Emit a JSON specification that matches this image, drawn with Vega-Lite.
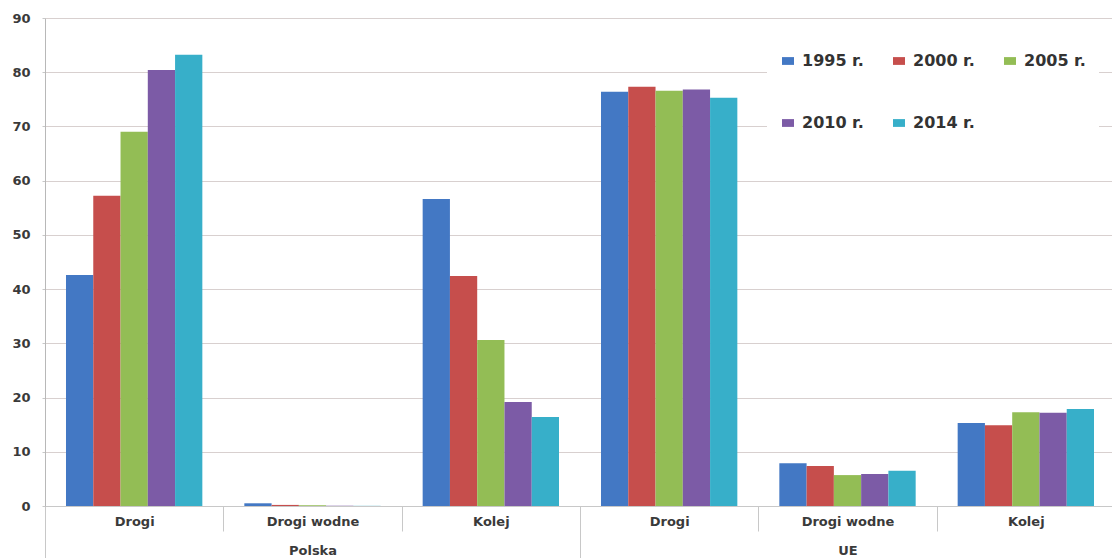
{
  "$schema": "https://vega.github.io/schema/vega-lite/v6.json",
  "autosize": {"type": "none"},
  "width": 1070,
  "height": 488,
  "padding": {"left": 45, "top": 18, "right": 0, "bottom": 52},
  "background": "white",
  "config": {
    "view": {"stroke": null},
    "font": "DejaVu Sans",
    "axis": {"labelFont": "DejaVu Sans", "labelColor": "#3a3a3a", "labelFontWeight": "bold"}
  },
  "data": {
    "values": [
      {"region": "Polska", "kategoria": "Polska|Drogi", "rok": "1995 r.", "udzial": 42.6},
      {"region": "Polska", "kategoria": "Polska|Drogi", "rok": "2000 r.", "udzial": 57.2},
      {"region": "Polska", "kategoria": "Polska|Drogi", "rok": "2005 r.", "udzial": 69.0},
      {"region": "Polska", "kategoria": "Polska|Drogi", "rok": "2010 r.", "udzial": 80.4},
      {"region": "Polska", "kategoria": "Polska|Drogi", "rok": "2014 r.", "udzial": 83.2},
      {"region": "Polska", "kategoria": "Polska|Drogi wodne", "rok": "1995 r.", "udzial": 0.5},
      {"region": "Polska", "kategoria": "Polska|Drogi wodne", "rok": "2000 r.", "udzial": 0.2},
      {"region": "Polska", "kategoria": "Polska|Drogi wodne", "rok": "2005 r.", "udzial": 0.15},
      {"region": "Polska", "kategoria": "Polska|Drogi wodne", "rok": "2010 r.", "udzial": 0.05},
      {"region": "Polska", "kategoria": "Polska|Drogi wodne", "rok": "2014 r.", "udzial": 0.03},
      {"region": "Polska", "kategoria": "Polska|Kolej", "rok": "1995 r.", "udzial": 56.6},
      {"region": "Polska", "kategoria": "Polska|Kolej", "rok": "2000 r.", "udzial": 42.4},
      {"region": "Polska", "kategoria": "Polska|Kolej", "rok": "2005 r.", "udzial": 30.6},
      {"region": "Polska", "kategoria": "Polska|Kolej", "rok": "2010 r.", "udzial": 19.2},
      {"region": "Polska", "kategoria": "Polska|Kolej", "rok": "2014 r.", "udzial": 16.4},
      {"region": "UE", "kategoria": "UE|Drogi", "rok": "1995 r.", "udzial": 76.4},
      {"region": "UE", "kategoria": "UE|Drogi", "rok": "2000 r.", "udzial": 77.3},
      {"region": "UE", "kategoria": "UE|Drogi", "rok": "2005 r.", "udzial": 76.6},
      {"region": "UE", "kategoria": "UE|Drogi", "rok": "2010 r.", "udzial": 76.8},
      {"region": "UE", "kategoria": "UE|Drogi", "rok": "2014 r.", "udzial": 75.3},
      {"region": "UE", "kategoria": "UE|Drogi wodne", "rok": "1995 r.", "udzial": 7.9},
      {"region": "UE", "kategoria": "UE|Drogi wodne", "rok": "2000 r.", "udzial": 7.4},
      {"region": "UE", "kategoria": "UE|Drogi wodne", "rok": "2005 r.", "udzial": 5.7},
      {"region": "UE", "kategoria": "UE|Drogi wodne", "rok": "2010 r.", "udzial": 5.9},
      {"region": "UE", "kategoria": "UE|Drogi wodne", "rok": "2014 r.", "udzial": 6.5},
      {"region": "UE", "kategoria": "UE|Kolej", "rok": "1995 r.", "udzial": 15.3},
      {"region": "UE", "kategoria": "UE|Kolej", "rok": "2000 r.", "udzial": 14.9},
      {"region": "UE", "kategoria": "UE|Kolej", "rok": "2005 r.", "udzial": 17.3},
      {"region": "UE", "kategoria": "UE|Kolej", "rok": "2010 r.", "udzial": 17.2},
      {"region": "UE", "kategoria": "UE|Kolej", "rok": "2014 r.", "udzial": 17.9}
    ]
  },
  "layer": [
    {
      "mark": {"type": "bar"},
      "encoding": {
        "x": {
          "field": "kategoria", "type": "nominal", "sort": null,
          "scale": {"paddingInner": 0, "paddingOuter": 0},
          "axis": {
            "title": null, "orient": "bottom", "labelAngle": 0,
            "labelExpr": "split(datum.label, '|')[1]",
            "tickBand": "extent", "tickSize": 25, "tickColor": "#c8c8c8",
            "labelPadding": -16, "labelFontSize": 13,
            "domainColor": "#c8c8c8", "grid": false
          }
        },
        "xOffset": {
          "field": "rok", "type": "nominal",
          "scale": {"paddingInner": 0, "paddingOuter": 0.77}
        },
        "y": {
          "field": "udzial", "type": "quantitative",
          "scale": {"domain": [0, 90], "nice": false},
          "axis": {
            "title": null, "values": [0, 10, 20, 30, 40, 50, 60, 70, 80, 90],
            "grid": true, "gridColor": "#d8d0cf", "tickSize": 3,
            "tickColor": "#c8c8c8", "domainColor": "#b8b8b8",
            "labelPadding": 12, "labelFontSize": 13
          }
        },
        "color": {
          "field": "rok", "type": "nominal",
          "scale": {
            "domain": ["1995 r.", "2000 r.", "2005 r.", "2010 r.", "2014 r."],
            "range": ["#4378c4", "#c64e4c", "#93bd55", "#7c5ba6", "#37afc9"]
          },
          "legend": {
            "title": null, "orient": "none", "legendX": 722, "legendY": 22,
            "direction": "horizontal", "columns": 3,
            "fillColor": "white", "padding": 13,
            "symbolType": "M-1,-0.65H1V0.65H-1Z", "symbolSize": 144,
            "symbolStrokeWidth": 0, "symbolOpacity": 1,
            "labelFont": "DejaVu Sans",
            "labelFontSize": 16, "labelColor": "#333333", "labelFontWeight": "bold",
            "labelOffset": 6, "columnPadding": 27, "rowPadding": 46
          }
        }
      }
    },
    {
      "mark": {"type": "point", "opacity": 0},
      "encoding": {
        "x": {
          "field": "region", "type": "nominal", "sort": null,
          "scale": {"paddingInner": 0, "paddingOuter": 0},
          "axis": {
            "title": null, "orient": "bottom", "labelAngle": 0,
            "tickBand": "extent",
            "tickSize": 52, "tickColor": "#c8c8c8",
            "labelPadding": -14, "labelFontSize": 13,
            "domain": false, "grid": false
          }
        }
      }
    }
  ],
  "resolve": {"scale": {"x": "independent"}, "axis": {"x": "independent"}}
}
